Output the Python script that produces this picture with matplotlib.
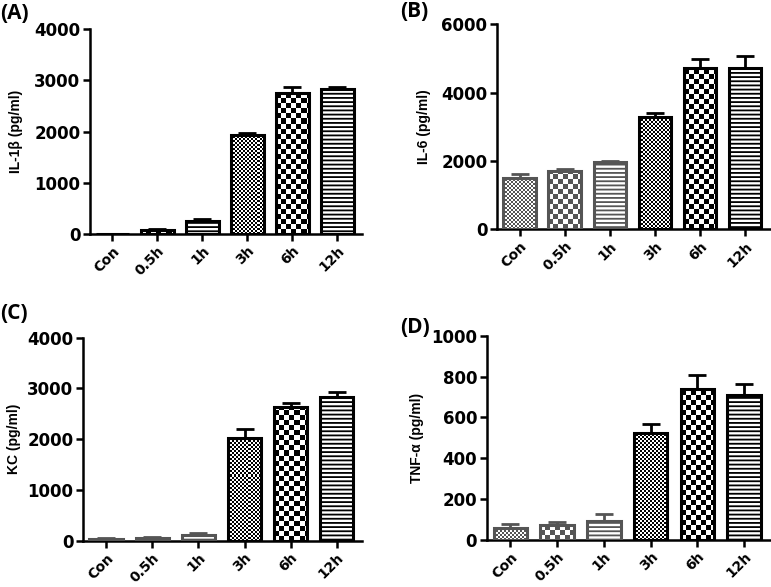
import numpy as np
import matplotlib
matplotlib.use("Agg")
import matplotlib.pyplot as plt
from matplotlib.colors import ListedColormap

categories = ["Con", "0.5h", "1h", "3h", "6h", "12h"]

il1b_vals = [0, 80, 260, 1930, 2760, 2840]
il1b_err = [0, 20, 30, 50, 110, 30]

il6_vals = [1490, 1717, 1960, 3278, 4712, 4732]
il6_err = [120, 40, 30, 117, 273, 350]

kc_vals = [40, 60, 110, 2030, 2640, 2830]
kc_err = [15, 15, 50, 170, 65, 100]

tnf_vals = [57, 73, 94, 522, 737, 710]
tnf_err = [20, 17, 32, 46, 71, 52]

patterns = ["fine", "checker", "lines", "fine", "checker", "lines"]

plt.rcParams["hatch.linewidth"] = 1.3
plt.rcParams["font.family"] = ["DejaVu Sans"]

fig = plt.figure(figsize=(7.71, 5.87), dpi=100)

panels = [
    dict(rect=[0.1167, 0.6014, 0.353, 0.349], vals=il1b_vals, err=il1b_err,
         ymax=4000, step=1000, ylabel="IL-1β (pg/ml)", lab="(A)",
         labpos=(0.0, 0.995), ylx=-0.245, first_gray=False),
    dict(rect=[0.6446, 0.6094, 0.354, 0.349], vals=il6_vals, err=il6_err,
         ymax=6000, step=2000, ylabel="IL-6 (pg/ml)", lab="(B)",
         labpos=(0.519, 0.998), ylx=-0.240, first_gray=True),
    dict(rect=[0.1077, 0.0784, 0.362, 0.3464], vals=kc_vals, err=kc_err,
         ymax=4000, step=1000, ylabel="KC (pg/ml)", lab="(C)",
         labpos=(0.0, 0.484), ylx=-0.221, first_gray=True),
    dict(rect=[0.6316, 0.0801, 0.367, 0.348], vals=tnf_vals, err=tnf_err,
         ymax=1000, step=200, ylabel="TNF-α (pg/ml)", lab="(D)",
         labpos=(0.519, 0.460), ylx=-0.224, first_gray=True),
]

GRAY = "#555555"


def fill_checker(ax, bar, cell, color):
    x0 = bar.get_x()
    w = bar.get_width()
    h = bar.get_height()
    if h <= 0:
        return
    p0 = ax.transData.transform((x0, 0))
    p1 = ax.transData.transform((x0 + w, h))
    wpx = p1[0] - p0[0]
    hpx = p1[1] - p0[1]
    nx = max(1, int(np.ceil(wpx / cell)))
    ny = max(1, int(np.ceil(hpx / cell)))
    arr = np.add.outer(np.arange(ny), np.arange(nx)) % 2
    x1 = x0 + w * nx * cell / wpx
    top = h * ny * cell / hpx
    im = ax.imshow(arr, extent=(x0, x1, 0, top), origin="lower",
                   cmap=ListedColormap(["white", color]), vmin=0, vmax=1,
                   interpolation="nearest", aspect="auto", zorder=2)
    im.set_clip_path(bar)


for p in panels:
    ax = fig.add_axes(p["rect"])
    x = np.arange(len(categories))
    ax.set_xlim(-0.5, 5.55)
    ax.set_ylim(0, p["ymax"])
    colors = []
    for i in range(len(categories)):
        if p["first_gray"] and i < 3:
            colors.append(GRAY)
        else:
            colors.append("black")
    bars = []
    for i, (v, e) in enumerate(zip(p["vals"], p["err"])):
        c = colors[i]
        hatch = "----" if patterns[i] == "lines" else None
        b = ax.bar(x[i], v, width=0.72, facecolor="white" if hatch else "none",
                   edgecolor=c, linewidth=2.2, hatch=hatch, zorder=3)[0]
        bars.append(b)
        if v > 0:
            ax.errorbar(x[i], v, yerr=[[0], [e]], fmt="none", ecolor=c,
                        elinewidth=2.0, capsize=6.5, capthick=2.0, zorder=2.5)
    ax.set_xlim(-0.5, 5.55)
    ax.set_ylim(0, p["ymax"])
    for i, b in enumerate(bars):
        if patterns[i] == "fine":
            fill_checker(ax, b, 2, colors[i])
        elif patterns[i] == "checker":
            fill_checker(ax, b, 5, colors[i])
    ax.set_xlim(-0.5, 5.55)
    ax.set_ylim(0, p["ymax"])

    ax.set_yticks(np.arange(0, p["ymax"] + 1, p["step"]))
    ax.set_xticks(x)
    ax.set_xticklabels(categories, rotation=45, ha="right",
                       rotation_mode="anchor", fontsize=10, fontweight="bold")
    for t in ax.get_yticklabels():
        t.set_fontweight("bold")
        t.set_fontsize(12)
    for s in ["top", "right"]:
        ax.spines[s].set_visible(False)
    for s in ["left", "bottom"]:
        ax.spines[s].set_linewidth(1.8)
    ax.tick_params(axis="both", width=1.8, length=5, pad=2)
    ax.set_ylabel(p["ylabel"], fontsize=10, fontweight="bold",
                  family=["Liberation Sans Narrow", "Liberation Sans", "DejaVu Sans"])
    ax.yaxis.set_label_coords(p["ylx"], 0.5)
    fig.text(p["labpos"][0], p["labpos"][1], p["lab"], fontsize=15,
             fontweight="bold", family=["Open Sans", "DejaVu Sans"], va="top", ha="left")

fig.savefig("out.png", dpi=100)
